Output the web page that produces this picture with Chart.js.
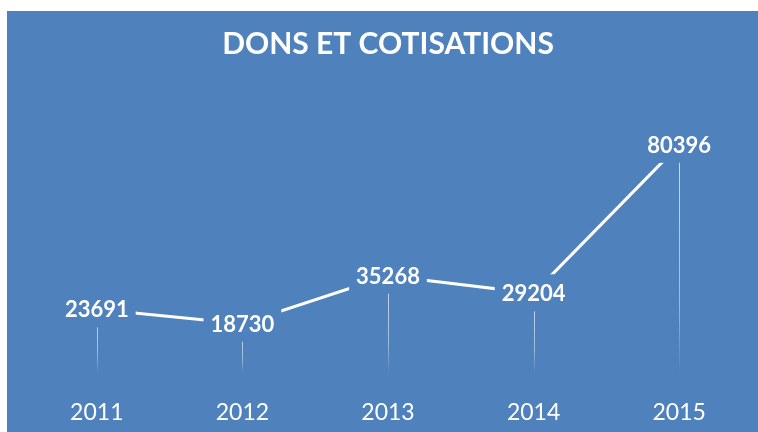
<!DOCTYPE html>
<html lang="fr">
<head>
    <meta charset="UTF-8">
    <title>Dons et cotisations</title>
    <script src="https://cdn.jsdelivr.net/npm/chart.js@4/dist/chart.umd.min.js"></script>
    <style>
        html, body { margin: 0; padding: 0; background: #fff; }
        #wrap { width: 758px; height: 432px; }
    </style>
</head>
<body>
    <div id="wrap"><canvas id="myChart"></canvas></div>
    <script>
        // data
        const years = ['2011', '2012', '2013', '2014', '2015'];
        const dons = [23691, 18730, 35268, 29204, 80396];
        const titleText = 'DONS ET COTISATIONS';

        const BLUE = '#4f81bd';
        const FONT = 'Lato, "Open Sans", sans-serif';

        // white margin + blue panel behind everything
        const panel = {
            id: 'panel',
            beforeDraw(chart) {
                const c = chart.ctx;
                c.save();
                c.fillStyle = '#ffffff';
                c.fillRect(0, 0, chart.width, chart.height);
                c.fillStyle = BLUE;
                c.fillRect(7, 11, chart.width - 7, chart.height - 11);
                c.restore();
            }
        };

        // thin fading lines from each point down to the axis
        const dropLines = {
            id: 'dropLines',
            beforeDatasetsDraw(chart) {
                const c = chart.ctx;
                const bottom = chart.chartArea.bottom - 5;
                chart.getDatasetMeta(0).data.forEach(p => {
                    const g = c.createLinearGradient(0, p.y, 0, bottom);
                    g.addColorStop(0, 'rgba(255,255,255,0.75)');
                    g.addColorStop(0.7, 'rgba(255,255,255,0.45)');
                    g.addColorStop(1, 'rgba(255,255,255,0)');
                    c.save();
                    c.strokeStyle = g;
                    c.lineWidth = 1;
                    c.beginPath();
                    c.moveTo(Math.round(p.x) + 0.5, p.y);
                    c.lineTo(Math.round(p.x) + 0.5, bottom);
                    c.stroke();
                    c.restore();
                });
            }
        };

        // value labels sitting on the points, with a blue box that hides the line
        const valueLabels = {
            id: 'valueLabels',
            afterDatasetsDraw(chart) {
                const c = chart.ctx;
                c.save();
                c.font = 'bold 22px ' + FONT;
                c.textAlign = 'center';
                c.textBaseline = 'middle';
                chart.getDatasetMeta(0).data.forEach((p, i) => {
                    const txt = String(dons[i]);
                    const w = c.measureText(txt).width;
                    c.fillStyle = BLUE;
                    c.fillRect(p.x - w / 2 - 7, p.y - 19, w + 14, 37);
                    c.fillStyle = '#ffffff';
                    c.fillText(txt, p.x, p.y + 1);
                });
                c.restore();
            }
        };

        const ctx = document.getElementById('myChart').getContext('2d');
        new Chart(ctx, {
            type: 'line',
            data: {
                labels: years,
                datasets: [{
                    data: dons,
                    borderColor: '#ffffff',
                    borderWidth: 3,
                    pointRadius: 0,
                    tension: 0
                }]
            },
            options: {
                animation: false,
                responsive: true,
                maintainAspectRatio: false,
                layout: { padding: { left: 24, right: 6, top: 0, bottom: 0 } },
                plugins: {
                    legend: { display: false },
                    tooltip: { enabled: false },
                    title: {
                        display: true,
                        text: titleText,
                        color: '#ffffff',
                        font: { family: FONT, size: 30, weight: 'bold' },
                        padding: { top: 26, bottom: 55 }
                    }
                },
                scales: {
                    x: {
                        offset: true,
                        grid: { display: false },
                        border: { display: false },
                        ticks: {
                            color: '#ffffff',
                            font: { family: FONT, size: 23 },
                            padding: 13
                        },
                        afterFit(scale) { scale.height = 54; }
                    },
                    y: {
                        display: false,
                        min: 0,
                        max: 90000
                    }
                }
            },
            plugins: [panel, dropLines, valueLabels]
        });
    </script>
</body>
</html>
